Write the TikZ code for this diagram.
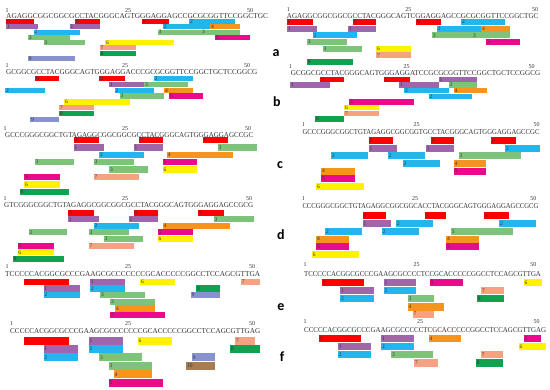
\documentclass[tikz,border=0pt]{standalone}
\usepackage{graphicx}
\usepackage{fontspec}
\setmainfont{Liberation Serif}
\newfontfamily\panelfont{Carlito}
\usepackage{tikz}
\definecolor{frag0}{HTML}{FF0000}
\definecolor{frag1}{HTML}{A066AC}
\definecolor{frag2}{HTML}{22B6EC}
\definecolor{frag3}{HTML}{7DC47A}
\definecolor{frag4}{HTML}{F7941D}
\definecolor{frag5}{HTML}{EC0A8C}
\definecolor{frag6}{HTML}{FFF200}
\definecolor{frag7}{HTML}{F4A282}
\definecolor{frag8}{HTML}{0EA34E}
\definecolor{frag9}{HTML}{8893CE}
\definecolor{frag10}{HTML}{A67C52}
\tikzset{
  dnafrag/.style={anchor=west,inner xsep=1pt,inner ysep=0pt,
                  font=\fontsize{5.5}{5.5}\selectfont,text=black!80},
  dnaseq/.style={anchor=west,inner sep=0pt,text=black!80,
                 font=\fontsize{7.5}{7.5}\selectfont},
  dnapos/.style={inner sep=0pt,text=black!80,font=\fontsize{6}{6}\selectfont},
  dnapanel/.style={inner sep=0pt,font=\panelfont\bfseries\fontsize{14}{14}\selectfont}
}
% one coloured fragment: name, index, left x, right x, y
\newcommand{\frag}[5]{%
  \pgfmathsetmacro{\fragtw}{#4-#3-2}%
  \node[dnafrag,fill=frag#2,text width=\fragtw pt] (#1) at (#3,#5) {#2};}
\newcommand{\dnastr}[2]{\resizebox{#1pt}{\height}{#2}}

\begin{document}
\begin{tikzpicture}[x=1pt,y=-1pt]
  \useasboundingbox[fill=white] (0,0) rectangle (550,390);

  % ---- panel a
  \node[dnapos] (aLp1) at (7,10.2) {1};
  \node[dnapos] (aLp25) at (128,10.2) {25};
  \node[dnapos] (aLp50) at (250,10.2) {50};
  \node[dnaseq] (aLseq) at (6,16.2) {\dnastr{262}{AGAGGCGGCGGCGCCTACGGGCAGTGGGAGGAGCCGCGCGGTTCCGGCTGC}};
  \begin{scope}[dnafrag/.append style={minimum height=5pt}]
    \frag{aL1}{0}{6}{33.3}{21.6}
    \frag{aL2}{0}{75}{99.3}{21.6}
    \frag{aL3}{0}{141.7}{168.3}{21.6}
    \frag{aL4}{2}{189}{234.3}{21.6}
    \frag{aL5}{1}{6}{37.7}{26.8}
    \frag{aL6}{1}{69.3}{99.3}{26.8}
    \frag{aL7}{2}{162.7}{210}{26.8}
    \frag{aL8}{4}{210}{239.3}{26.8}
    \frag{aL9}{2}{33.3}{79.3}{32.1}
    \frag{aL10}{3}{157.7}{239.3}{32.1}
    \frag{aL11}{3}{201}{239.3}{32.1}
    \frag{aL12}{3}{27.7}{69.3}{37.4}
    \frag{aL13}{5}{215}{250}{37.4}
    \frag{aL14}{3}{43.3}{84.3}{42.7}
    \frag{aL15}{6}{105}{173.3}{42.7}
    \frag{aL16}{7}{99.3}{135.7}{48}
    \frag{aL17}{8}{99.3}{135.7}{53.3}
    \frag{aL18}{9}{27.7}{74.3}{58.6}
  \end{scope}
  \node[dnapos] (aRp1) at (288.3,9.6) {1};
  \node[dnapos] (aRp25) at (408.3,9.6) {25};
  \node[dnapos] (aRp50) at (535,9.6) {50};
  \node[dnaseq] (aRseq) at (286.7,15.6) {\dnastr{251.6}{AGAGGCGGCGGCGCCTACGGGCAGTCGGAGGAGCCGCGCGGTTCCGGCTGC}};
  \begin{scope}[dnafrag/.append style={minimum height=6pt}]
    \frag{aR1}{0}{286.7}{312.3}{22}
    \frag{aR2}{0}{352.7}{376}{22}
    \frag{aR3}{0}{415.7}{441}{22}
    \frag{aR4}{2}{461}{504.3}{22}
    \frag{aR5}{1}{286.7}{316.7}{28.7}
    \frag{aR6}{1}{347.7}{376}{28.7}
    \frag{aR7}{2}{436.7}{481}{28.7}
    \frag{aR8}{4}{481}{509.3}{28.7}
    \frag{aR9}{2}{312.3}{356.7}{35.3}
    \frag{aR10}{3}{431.7}{509.3}{35.3}
    \frag{aR11}{3}{472}{509.3}{35.3}
    \frag{aR12}{3}{306.7}{346.7}{42}
    \frag{aR13}{5}{486}{520}{42}
    \frag{aR14}{3}{322.3}{361.7}{48.7}
    \frag{aR15}{6}{376}{410.7}{48.7}
    \frag{aR16}{7}{376}{410.7}{55.3}
    \frag{aR17}{8}{306.7}{352.3}{62}
  \end{scope}
  \node[dnapanel] (labA) at (276,53) {a};

  % ---- panel b
  \node[dnapos] (bLp1) at (7,65.6) {1};
  \node[dnapos] (bLp25) at (125,65.6) {25};
  \node[dnapos] (bLp50) at (247,65.6) {50};
  \node[dnaseq] (bLseq) at (6,71.8) {\dnastr{251}{GCGGCGCCTACGGGCAGTGGGAGGACCCGCGCGGTTCCGGCTGCTCCGGCG}};
  \begin{scope}[dnafrag/.append style={minimum height=5.3pt}]
    \frag{bL1}{0}{35}{58.3}{78.7}
    \frag{bL2}{0}{99}{124.3}{78.7}
    \frag{bL3}{2}{153.3}{192.3}{78.7}
    \frag{bL4}{1}{109}{144}{84.5}
    \frag{bL5}{3}{144}{187.3}{84.5}
    \frag{bL6}{2}{5}{44.3}{90.3}
    \frag{bL7}{2}{114.3}{153.3}{90.3}
    \frag{bL8}{4}{164}{192.3}{90.3}
    \frag{bL9}{3}{119.3}{164}{96.1}
    \frag{bL10}{5}{169}{202.3}{96.1}
    \frag{bL11}{6}{64}{129.3}{101.9}
    \frag{bL12}{7}{59}{93.3}{107.7}
    \frag{bL13}{8}{59}{93.3}{113.5}
    \frag{bL14}{9}{30}{58.3}{119.3}
  \end{scope}
  \node[dnapos] (bRp1) at (290.7,66.4) {1};
  \node[dnapos] (bRp25) at (406.7,66.4) {25};
  \node[dnapos] (bRp50) at (531.7,66.4) {50};
  \node[dnaseq] (bRseq) at (290.7,73) {\dnastr{249.3}{GCGGCGCCTACGGGCAGTGGGAGGATCCGCGCGGTTCCGGCTGCTCCGGCG}};
  \begin{scope}[dnafrag/.append style={minimum height=5.3pt}]
    \frag{bR1}{0}{320}{343.3}{79.3}
    \frag{bR2}{0}{383.3}{409.3}{79.3}
    \frag{bR3}{1}{438.3}{476.7}{79.3}
    \frag{bR4}{1}{290}{329.3}{85}
    \frag{bR5}{1}{399}{438.3}{85}
    \frag{bR6}{3}{448.3}{476.7}{85}
    \frag{bR7}{2}{404}{448.3}{90.7}
    \frag{bR8}{4}{453.3}{486.7}{90.7}
    \frag{bR9}{2}{428.3}{471.7}{96.3}
    \frag{bR10}{5}{349}{414}{102}
    \frag{bR11}{6}{344}{378.3}{107.7}
    \frag{bR12}{7}{344}{378.3}{113.3}
    \frag{bR13}{8}{315}{344}{119}
  \end{scope}
  \node[dnapanel] (labB) at (277,102) {b};

  % ---- panel c
  \node[dnapos] (cLp1) at (5,128.6) {1};
  \node[dnapos] (cLp25) at (125,128.6) {25};
  \node[dnapos] (cLp50) at (248,128.6) {50};
  \node[dnaseq] (cLseq) at (5,134.6) {\dnastr{248}{GCCCGGGCGGCTGTAGAGGCGGCGGCGCCTACGGGCAGTGGGAGGAGCCGC}};
  \begin{scope}[dnafrag/.append style={minimum height=6.5pt}]
    \frag{cL1}{0}{73.3}{99}{140.2}
    \frag{cL2}{0}{139}{162.3}{140.2}
    \frag{cL3}{0}{202.3}{227.7}{140.2}
    \frag{cL4}{1}{73.3}{103.3}{147.4}
    \frag{cL5}{1}{133.3}{162.3}{147.4}
    \frag{cL6}{3}{217.3}{256.7}{147.4}
    \frag{cL7}{2}{99}{143.3}{154.8}
    \frag{cL8}{4}{166.7}{232.3}{154.8}
    \frag{cL9}{3}{34.3}{73.3}{162.2}
    \frag{cL10}{3}{93.3}{133.3}{162.2}
    \frag{cL11}{5}{162.3}{196.7}{162.2}
    \frag{cL12}{3}{109}{147.7}{169.6}
    \frag{cL13}{6}{162.3}{196.7}{169.6}
    \frag{cL14}{5}{24}{59.3}{177}
    \frag{cL15}{7}{93.3}{138.3}{177}
    \frag{cL16}{6}{24}{59.3}{184.4}
    \frag{cL17}{8}{19.3}{68.3}{191.8}
  \end{scope}
  \node[dnapos] (cRp1) at (303.3,125) {1};
  \node[dnapos] (cRp25) at (416.7,125) {25};
  \node[dnapos] (cRp50) at (536.7,125) {50};
  \node[dnaseq] (cRseq) at (302.3,132.3) {\dnastr{237}{GCCCGGGCGGCTGTAGAGGCGGCGGTGCCTACGGGCAGTGGGAGGAGCCGC}};
  \begin{scope}[dnafrag/.append style={minimum height=7pt}]
    \frag{cR1}{0}{368.3}{392.3}{140.7}
    \frag{cR2}{0}{431}{453.3}{140.7}
    \frag{cR3}{0}{491}{516}{140.7}
    \frag{cR4}{1}{368.3}{396.7}{148.3}
    \frag{cR5}{1}{425.7}{453.3}{148.3}
    \frag{cR6}{2}{505}{539.3}{148.3}
    \frag{cR7}{2}{331}{367.7}{155.9}
    \frag{cR8}{2}{387.3}{425}{155.9}
    \frag{cR9}{3}{458.3}{520.7}{155.9}
    \frag{cR10}{2}{402.3}{439.3}{163.5}
    \frag{cR11}{4}{453.3}{486}{163.5}
    \frag{cR12}{4}{321}{354.3}{171.1}
    \frag{cR13}{5}{453.3}{486}{171.1}
    \frag{cR14}{5}{321}{354.3}{178.7}
    \frag{cR15}{6}{316}{363.3}{186.3}
  \end{scope}
  \node[dnapanel] (labC) at (280,165) {c};

  % ---- panel d
  \node[dnapos] (dLp1) at (5,198.6) {1};
  \node[dnapos] (dLp25) at (125,198.6) {25};
  \node[dnapos] (dLp50) at (249,198.6) {50};
  \node[dnaseq] (dLseq) at (4,205) {\dnastr{249}{GTCGGGCGGCTGTAGAGGCGGCGGCGCCTACGGGCAGTGGGAGGAGCCGCG}};
  \begin{scope}[dnafrag/.append style={minimum height=6pt}]
    \frag{dL1}{0}{67.7}{93.3}{212.7}
    \frag{dL2}{0}{133.3}{157.3}{212.7}
    \frag{dL3}{0}{197.7}{223.3}{212.7}
    \frag{dL4}{1}{67.7}{98.3}{219.3}
    \frag{dL5}{1}{128.3}{157.3}{219.3}
    \frag{dL6}{3}{213.3}{253.3}{219.3}
    \frag{dL7}{2}{93.3}{138.3}{225.9}
    \frag{dL8}{4}{162.7}{229.3}{225.9}
    \frag{dL9}{3}{28.3}{66.7}{232.5}
    \frag{dL10}{3}{88.3}{128.3}{232.5}
    \frag{dL11}{5}{157.3}{192.3}{232.5}
    \frag{dL12}{3}{103.3}{142.7}{239.1}
    \frag{dL13}{6}{157.3}{192.3}{239.1}
    \frag{dL14}{5}{17.3}{53.3}{245.7}
    \frag{dL15}{7}{88.3}{133.3}{245.7}
    \frag{dL16}{6}{17.3}{53.3}{252.3}
    \frag{dL17}{8}{12.7}{63.3}{258.9}
  \end{scope}
  \node[dnapos] (dRp1) at (303.3,199) {1};
  \node[dnapos] (dRp25) at (415,199) {25};
  \node[dnapos] (dRp50) at (533.3,199) {50};
  \node[dnaseq] (dRseq) at (302.3,205.8) {\dnastr{236}{CCCGGGCGGCTGTAGAGGCGGCGGCACCTACGGGCAGTGGGAGGAGCCGCG}};
  \begin{scope}[dnafrag/.append style={minimum height=7pt}]
    \frag{dR1}{0}{362.3}{386}{215.7}
    \frag{dR2}{0}{424.3}{446}{215.7}
    \frag{dR3}{0}{483.3}{508.3}{215.7}
    \frag{dR4}{1}{362.3}{390.7}{223.5}
    \frag{dR5}{2}{395.7}{432.7}{223.5}
    \frag{dR6}{2}{499}{536}{223.5}
    \frag{dR7}{2}{325}{361.7}{231.3}
    \frag{dR8}{2}{381.7}{419}{231.3}
    \frag{dR9}{3}{450.7}{512.7}{231.3}
    \frag{dR10}{4}{316}{349}{239.1}
    \frag{dR11}{4}{446}{479}{239.1}
    \frag{dR12}{5}{316}{349}{246.9}
    \frag{dR13}{5}{446}{479}{246.9}
    \frag{dR14}{6}{311.7}{358.3}{254.7}
  \end{scope}
  \node[dnapanel] (labD) at (281,235) {d};

  % ---- panel e
  \node[dnapos] (eLp1) at (7,267) {1};
  \node[dnapos] (eLp25) at (128,267) {25};
  \node[dnapos] (eLp50) at (252,267) {50};
  \node[dnaseq] (eLseq) at (5,273.8) {\dnastr{255}{TCCCCCACGGCGCCCGAAGCGCCCCCCCGCACCCCCGGCCTCCAGCGTTGA}};
  \begin{scope}[dnafrag/.append style={minimum height=6.3pt}]
    \frag{eL1}{0}{24}{69}{281.7}
    \frag{eL2}{1}{90}{125}{281.7}
    \frag{eL3}{6}{140}{175}{281.7}
    \frag{eL4}{7}{240.7}{260}{281.7}
    \frag{eL5}{1}{43.3}{79.3}{288.4}
    \frag{eL6}{2}{90}{125}{288.4}
    \frag{eL7}{8}{196}{219.3}{288.4}
    \frag{eL8}{2}{43.3}{79.3}{295.1}
    \frag{eL9}{3}{100}{145}{295.1}
    \frag{eL10}{9}{190.7}{219.3}{295.1}
    \frag{eL11}{3}{110}{155}{301.8}
    \frag{eL12}{4}{115}{155}{308.5}
    \frag{eL13}{5}{110}{165}{315.2}
  \end{scope}
  \node[dnapos] (eRp1) at (305,265) {1};
  \node[dnapos] (eRp25) at (416.7,265) {25};
  \node[dnapos] (eRp50) at (533.3,265) {50};
  \node[dnaseq] (eRseq) at (304,273.8) {\dnastr{236.7}{TCCCCCACGGCGCCCGAAGCGCCCCTCCGCACCCCCGGCCTCCAGCGTTGA}};
  \begin{scope}[dnafrag/.append style={minimum height=7.5pt}]
    \frag{eR1}{0}{321.7}{364}{282.3}
    \frag{eR2}{1}{383.3}{416}{282.3}
    \frag{eR3}{5}{429.3}{462.3}{282.3}
    \frag{eR4}{6}{523.3}{541.7}{282.3}
    \frag{eR5}{1}{340}{373.3}{290.5}
    \frag{eR6}{2}{383.3}{416}{290.5}
    \frag{eR7}{7}{481}{504}{290.5}
    \frag{eR8}{2}{340}{373.3}{298.7}
    \frag{eR9}{3}{407.3}{434}{298.7}
    \frag{eR10}{8}{476.7}{504}{298.7}
    \frag{eR11}{7}{412.3}{434}{314}
    \frag{eR12}{4}{407.3}{443.3}{306.9}
  \end{scope}
  \node[dnapanel] (labE) at (281,307) {e};

  % ---- panel f
  \node[dnapos] (fLp1) at (11.7,323.3) {1};
  \node[dnapos] (fLp25) at (128,323.3) {25};
  \node[dnapos] (fLp50) at (252,323.3) {50};
  \node[dnaseq] (fLseq) at (10,331.5) {\dnastr{250}{CCCCCACGGCGCCCGAAGCGCCCCCCCGCACCCCCGGCCTCCAGCGTTGAG}};
  \begin{scope}[dnafrag/.append style={minimum height=8pt}]
    \frag{fL1}{0}{24}{68.3}{340.7}
    \frag{fL2}{1}{88.3}{122.7}{340.7}
    \frag{fL3}{6}{137.3}{171.7}{340.7}
    \frag{fL4}{7}{235}{254.3}{340.7}
    \frag{fL5}{1}{43.3}{77.7}{349.1}
    \frag{fL6}{2}{88.3}{122.7}{349.1}
    \frag{fL7}{8}{230}{259.3}{349.1}
    \frag{fL8}{2}{43.3}{77.7}{357.5}
    \frag{fL9}{3}{99}{141.7}{357.5}
    \frag{fL10}{9}{191.7}{215}{357.5}
    \frag{fL11}{3}{108.3}{151.7}{365.9}
    \frag{fL12}{10}{186}{215}{365.9}
    \frag{fL13}{4}{113.3}{151.7}{374.3}
    \frag{fL14}{5}{108.3}{162.3}{382.7}
  \end{scope}
  \node[dnapos] (fRp1) at (305,321.7) {1};
  \node[dnapos] (fRp25) at (420,321.7) {25};
  \node[dnapos] (fRp50) at (536.7,321.7) {50};
  \node[dnaseq] (fRseq) at (304,329.8) {\dnastr{242}{CCCCCACGGCGCCCGAAGCGCCCCCTCGCACCCCCGGCCTCCAGCGTTGAG}};
  \begin{scope}[dnafrag/.append style={minimum height=7.5pt}]
    \frag{fR1}{0}{318.3}{361}{338.3}
    \frag{fR2}{1}{381}{414}{338.3}
    \frag{fR3}{4}{428.3}{460.7}{338.3}
    \frag{fR4}{5}{523.3}{540.7}{338.3}
    \frag{fR5}{1}{337.7}{370.7}{346.5}
    \frag{fR6}{2}{381}{414}{346.5}
    \frag{fR7}{6}{518.3}{546}{346.5}
    \frag{fR8}{2}{337.7}{370.7}{354.7}
    \frag{fR9}{3}{391}{432.3}{354.7}
    \frag{fR10}{7}{480.7}{502.7}{354.7}
    \frag{fR11}{7}{414}{437.3}{362.9}
    \frag{fR12}{8}{475.7}{502.7}{362.9}
  \end{scope}
  \node[dnapanel] (labF) at (282,357) {f};
\end{tikzpicture}
\end{document}
